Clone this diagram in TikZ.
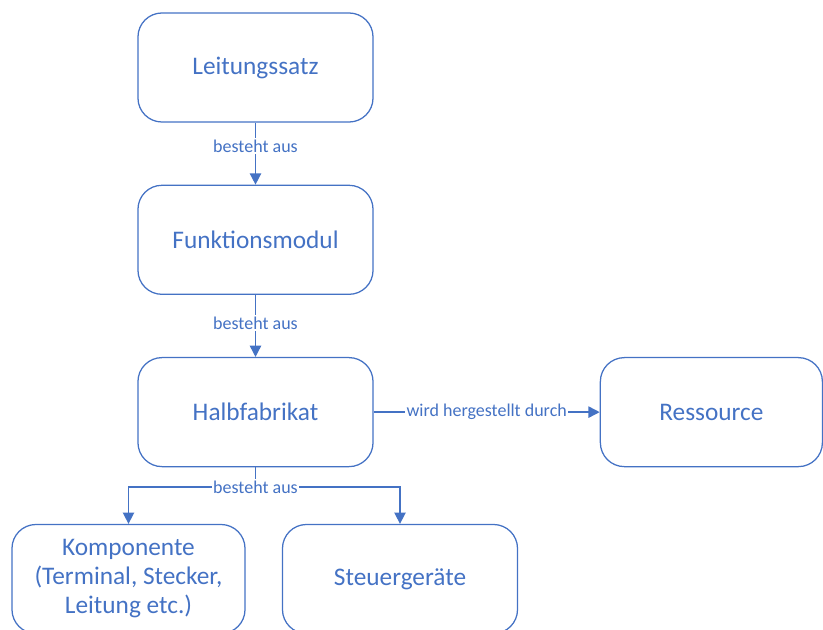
\documentclass[tikz,border=0pt]{standalone}
\usepackage{fontspec}
\setmainfont{Carlito}
\usetikzlibrary{arrows.meta,positioning}
\definecolor{PartBlue}{HTML}{4472C4}

\begin{document}
\begin{tikzpicture}[x=0.025cm,y=-0.025cm,node distance=1.55cm,
    partbox/.style={draw=PartBlue,line width=0.9pt,rounded corners=0.6cm,
      minimum width=5.875cm,minimum height=2.725cm,text=PartBlue,
      font=\fontsize{18}{20.6}\selectfont,align=center},
    rel/.style={draw=PartBlue,line width=1.1pt,-{Triangle[length=8pt,width=8pt]}},
    rellabel/.style={fill=white,text=PartBlue,inner sep=1pt,
      font=\fontsize{12.8}{14}\selectfont}]
  \useasboundingbox (0,0) rectangle (823,630);
  % chain down the middle
  \node[partbox] (satz) at (255.5,67.5) {Leitungssatz};
  \node[partbox,below=of satz] (modul) {Funktionsmodul};
  \node[partbox,below=of modul] (halb) {Halbfabrikat};
  \node[partbox,minimum width=5.55cm,right=5.65cm of halb] (res) {Ressource};
  % parts at the bottom
  \node[partbox,minimum width=5.825cm] (komp) at (128.5,579)
    {Komponente\\(Terminal, Stecker,\\Leitung etc.)};
  \node[partbox] (steuer) at (400,579) {Steuergeräte};

  \draw[rel] (satz) -- node[rellabel,pos=0.38] {besteht aus} (modul);
  \draw[rel] (modul) -- node[rellabel,pos=0.45] {besteht aus} (halb);
  \draw[rel] (halb) -- node[rellabel] {wird hergestellt durch} (res);
  \coordinate (fork) at (255.5,487);
  \draw[PartBlue,line width=1.1pt] (halb) -- (fork);
  \draw[rel] (fork) -| (komp.north);
  \draw[rel] (fork) -| (steuer.north);
  \node[rellabel] at (fork) {besteht aus};
\end{tikzpicture}
\end{document}
